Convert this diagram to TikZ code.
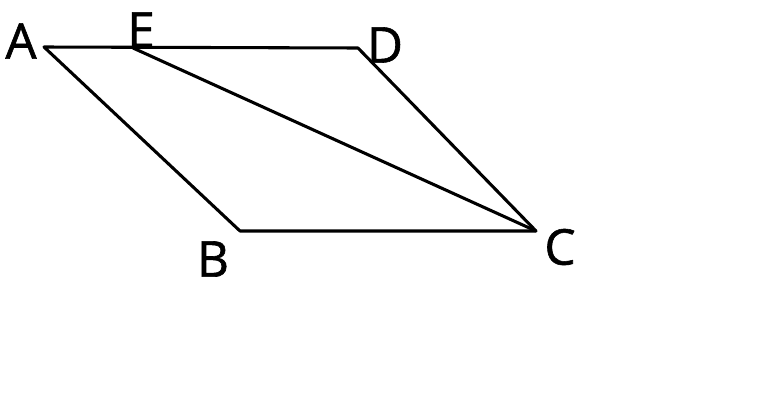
\documentclass[tikz,border=0pt]{standalone}
\usepackage{fontspec}
\setmainfont{Open Sans}[AutoFakeBold=1.2]
\begin{document}
\begin{tikzpicture}[x=0.75pt, y=-0.75pt, line join=round]
        \useasboundingbox (0, 0) rectangle (780, 400);
        \tikzset{lbl/.style={font=\fontsize{37}{40}\selectfont\bfseries, inner sep=0pt}}
        \coordinate (A) at (44, 47);
        \coordinate (E) at (133, 48);
        \coordinate (D) at (358, 48);
        \coordinate (C) at (536, 231);
        \coordinate (B) at (240, 231);
        \draw [line width=2.3pt] (A) -- (D) -- (C) -- (B) -- cycle;
        \draw [line width=2.3pt] (E) -- (C);
        \node [lbl] (lA) at (21, 41) {A};
        \node [lbl] (lE) at (141, 30) {E};
        \node [lbl] (lD) at (385, 45) {D};
        \node [lbl] (lB) at (213, 259) {B};
        \node [lbl] (lC) at (560, 247) {C};
    \end{tikzpicture}
\end{document}
